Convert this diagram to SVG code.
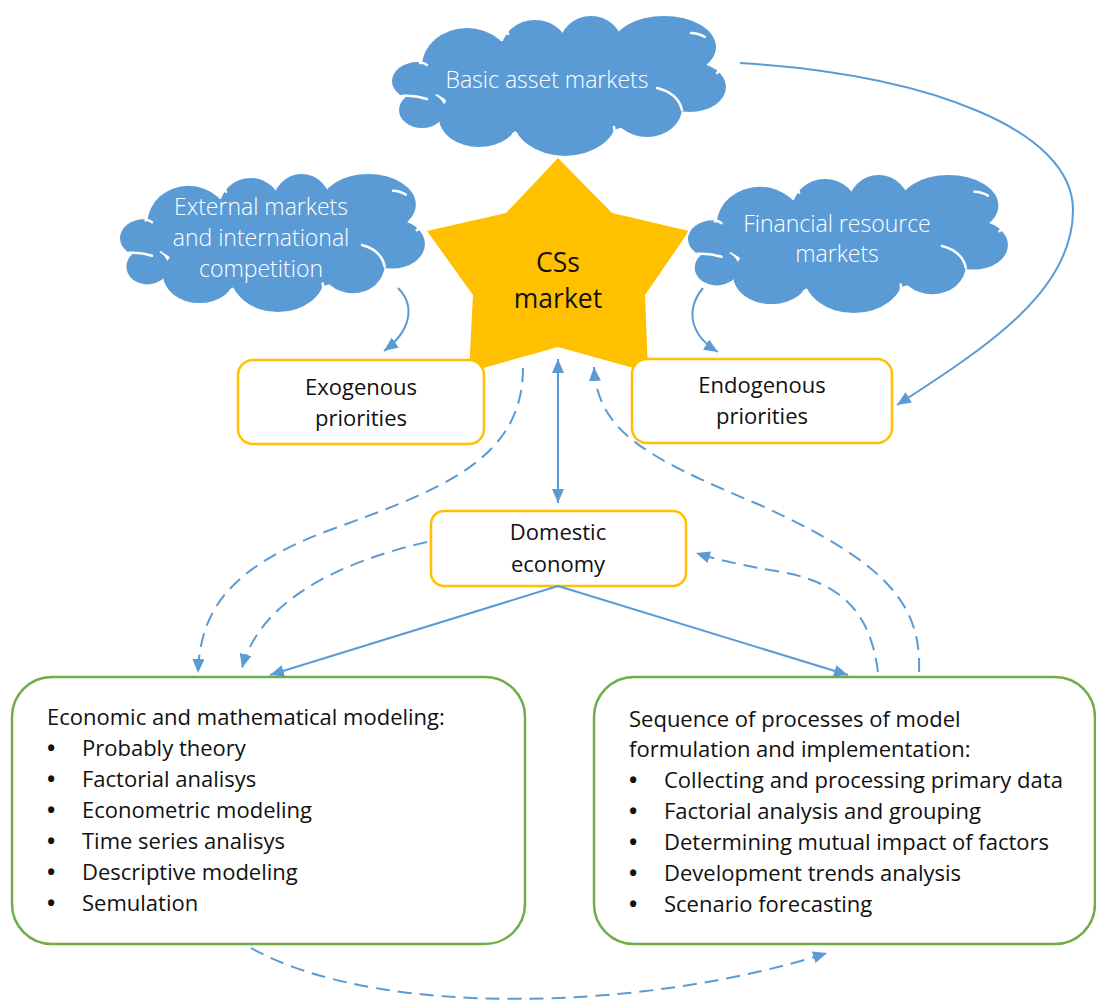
<svg xmlns="http://www.w3.org/2000/svg" xmlns:xlink="http://www.w3.org/1999/xlink" width="1096" height="1001" viewBox="0 0 1096 1001">
<style>
.lobe{vector-effect:non-scaling-stroke}
.inner{fill:none;stroke:#ffffff;stroke-width:2.5;vector-effect:non-scaling-stroke;stroke-linecap:round}
.ct{font-family:"Open Sans","Liberation Sans",sans-serif;font-weight:300;font-size:23px;fill:#ffffff;text-anchor:middle}
.bt{font-family:"Open Sans","Liberation Sans",sans-serif;font-size:22px;fill:#111111}
.big{font-size:26.5px}
.b{font-weight:700}
.mid{text-anchor:middle}
.ybox{fill:#ffffff;stroke:#FFC000;stroke-width:2.5}
.gbox{fill:#ffffff;stroke:#70AD47;stroke-width:2.5}
.conn{fill:none;stroke:#5B9BD5;stroke-width:2}
.dash{stroke-dasharray:14 8}
</style>
<defs>
<g id="lobes">
<ellipse class="lobe" cx="26" cy="68" rx="26" ry="19"/>
<ellipse class="lobe" cx="75" cy="53" rx="45" ry="38"/>
<ellipse class="lobe" cx="143" cy="38" rx="34" ry="31"/>
<ellipse class="lobe" cx="199" cy="34" rx="32" ry="31"/>
<ellipse class="lobe" cx="272" cy="34" rx="52" ry="31"/>
<ellipse class="lobe" cx="298" cy="74" rx="36" ry="25"/>
<ellipse class="lobe" cx="255" cy="95" rx="35" ry="29"/>
<ellipse class="lobe" cx="173" cy="105" rx="52" ry="38"/>
<ellipse class="lobe" cx="87" cy="105" rx="40" ry="29"/>
<ellipse class="lobe" cx="30" cy="97" rx="23" ry="18"/>
<ellipse class="lobe" cx="168" cy="72" rx="120" ry="50"/>
</g>
<g id="cloud">
<use xlink:href="#lobes" href="#lobes" fill="#5B9BD5" stroke="#ffffff" stroke-width="4"/>
<use xlink:href="#lobes" href="#lobes" fill="#5B9BD5" stroke="none"/>
<path class="inner" d="M28,50 Q31,49 35,52"/>
<path class="inner" d="M113,16 Q115,18 116,21"/>
<path class="inner" d="M168,12 Q171,10 174,9"/>
<path class="inner" d="M224,12 Q226,10 229,9"/>
<path class="inner" d="M299,20 Q306,20 313,24"/>
<path class="inner" d="M336,52 Q331,56 325,60"/>
<path class="inner" d="M265,75 Q286,80 290,97"/>
<path class="inner" d="M222,114 Q223,118 222,122"/>
<path class="inner" d="M121,121 Q123,124 125,127"/>
<path class="inner" d="M47,114 Q49,116 50,119"/>
<path class="inner" d="M10,83 Q22,82 35,86"/>
</g>
<marker id="ah" viewBox="0 0 14 12" refX="14" refY="6" markerWidth="14" markerHeight="12" markerUnits="userSpaceOnUse" orient="auto-start-reverse">
<path d="M0,0 L14,6 L0,12 z" fill="#5B9BD5"/>
</marker>
</defs>

<g id="node-star">
<polygon points="558,158 612,213 689,231 645,295 648,372 558,347 469,372 473,295 427,231 506,213" fill="#FFC000"/>
<text class="bt mid big" x="558" y="272">CSs</text>
<text class="bt mid big" x="558" y="308">market</text>
</g>

<g id="node-basic-asset-markets">
<use xlink:href="#cloud" href="#cloud" transform="translate(392,13)"/>
<text class="ct" x="547" y="88">Basic asset markets</text>
</g>

<g id="node-external-markets">
<use xlink:href="#cloud" href="#cloud" transform="translate(120,171) scale(0.913,0.986)"/>
<text class="ct" x="261" y="215">External markets</text>
<text class="ct" x="261" y="246">and international</text>
<text class="ct" x="261" y="277">competition</text>
</g>

<g id="node-financial-resource-markets">
<use xlink:href="#cloud" href="#cloud" transform="translate(688,172) scale(0.958,0.986)"/>
<text class="ct" x="837" y="232">Financial resource</text>
<text class="ct" x="837" y="262">markets</text>
</g>

<g id="node-exogenous">
<rect class="ybox" x="238" y="360" width="246" height="84" rx="15"/>
<text class="bt mid" x="361" y="395">Exogenous</text>
<text class="bt mid" x="361" y="426">priorities</text>
</g>

<g id="node-endogenous">
<rect class="ybox" x="632" y="359" width="260" height="84" rx="15"/>
<text class="bt mid" x="762" y="393">Endogenous</text>
<text class="bt mid" x="762" y="424">priorities</text>
</g>

<g id="node-domestic">
<rect class="ybox" x="431" y="511" width="255" height="75" rx="13"/>
<text class="bt mid" x="558" y="540">Domestic</text>
<text class="bt mid" x="558" y="572">economy</text>
</g>

<g id="node-modeling">
<rect class="gbox" x="12" y="677" width="513" height="267" rx="40"/>
<text class="bt" x="47" y="725">Economic and mathematical modeling:</text>
<text class="bt" x="47" y="756"><tspan class="b">•</tspan><tspan x="82">Probably theory</tspan></text>
<text class="bt" x="47" y="787"><tspan class="b">•</tspan><tspan x="82">Factorial analisys</tspan></text>
<text class="bt" x="47" y="818"><tspan class="b">•</tspan><tspan x="82">Econometric modeling</tspan></text>
<text class="bt" x="47" y="849"><tspan class="b">•</tspan><tspan x="82">Time series analisys</tspan></text>
<text class="bt" x="47" y="880"><tspan class="b">•</tspan><tspan x="82">Descriptive modeling</tspan></text>
<text class="bt" x="47" y="911"><tspan class="b">•</tspan><tspan x="82">Semulation</tspan></text>
</g>

<g id="node-sequence">
<rect class="gbox" x="594" y="677" width="501" height="267" rx="40"/>
<text class="bt" x="629" y="727">Sequence of processes of model</text>
<text class="bt" x="629" y="757">formulation and implementation:</text>
<text class="bt" x="629" y="788"><tspan class="b">•</tspan><tspan x="664">Collecting and processing primary data</tspan></text>
<text class="bt" x="629" y="819"><tspan class="b">•</tspan><tspan x="664">Factorial analysis and grouping</tspan></text>
<text class="bt" x="629" y="850"><tspan class="b">•</tspan><tspan x="664">Determining mutual impact of factors</tspan></text>
<text class="bt" x="629" y="881"><tspan class="b">•</tspan><tspan x="664">Development trends analysis</tspan></text>
<text class="bt" x="629" y="912"><tspan class="b">•</tspan><tspan x="664">Scenario forecasting</tspan></text>
</g>

<g id="connectors">
<path class="conn" d="M740,63 C930,75 1073,130 1073,210 C1073,290 990,345 897,405" marker-end="url(#ah)"/>
<path class="conn" d="M398,288 C415,305 412,330 384,351" marker-end="url(#ah)"/>
<path class="conn" d="M703,288 C685,310 690,335 718,352" marker-end="url(#ah)"/>
<path class="conn" d="M558,359 L558,503" marker-start="url(#ah)" marker-end="url(#ah)"/>
<path class="conn dash" d="M523,368 C523,460 440,490 330,530 C230,567 200,610 198,673" marker-end="url(#ah)"/>
<path class="conn dash" d="M427,542 C340,562 260,600 242,668" marker-end="url(#ah)"/>
<path class="conn" d="M558,586 L270,675" marker-end="url(#ah)"/>
<path class="conn" d="M558,586 L848,675" marker-end="url(#ah)"/>
<path class="conn dash" d="M878,672 C870,610 840,580 770,570 C730,563 712,558 696,553" marker-end="url(#ah)"/>
<path class="conn dash" d="M919,672 C922,600 880,560 760,505 C640,455 598,430 594,367" marker-end="url(#ah)"/>
<path class="conn dash" d="M251,948 C380,1020 650,1010 827,953" marker-end="url(#ah)"/>
</g>
</svg>
